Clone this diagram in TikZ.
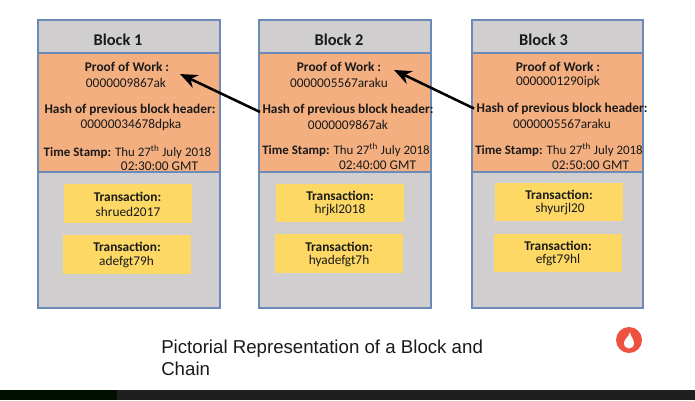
\documentclass[tikz,border=0pt]{standalone}
\usepackage{fontspec}
\setmainfont{Carlito}
\newfontfamily\capfont{Liberation Sans}
\usetikzlibrary{arrows.meta}
\definecolor{edgeblue}{HTML}{6C8AB8}
\definecolor{panelgray}{HTML}{D0CECE}
\definecolor{hdrorange}{HTML}{F4AF80}
\definecolor{txyellow}{HTML}{FDD865}
\definecolor{logored}{HTML}{EE5140}
\definecolor{textink}{HTML}{1A1A1A}
\tikzset{
  panel/.style={draw=edgeblue,line width=1.1pt,fill=panelgray},
  header/.style={draw=edgeblue,line width=1.1pt,fill=hdrorange},
  txbox/.style={fill=txyellow},
  lbl/.style={inner sep=0pt,text=textink,font=\fontsize{10}{12}\selectfont,anchor=center},
  blbl/.style={lbl,font=\fontsize{10}{12}\selectfont\bfseries},
  stamp/.style={lbl,font=\fontsize{9.7}{12}\selectfont},
  title/.style={lbl,font=\fontsize{12.3}{14}\selectfont\bfseries},
  captxt/.style={inner sep=0pt,anchor=base west,text=textink,font=\capfont\fontsize{14}{17}\selectfont},
  linkarrow/.style={-{Stealth[length=13pt,width=10.5pt]},line width=1.9pt,black},
}
\newcommand{\ordth}{\textsuperscript{th}}
\begin{document}
\begin{tikzpicture}[x=0.75pt,y=-0.75pt]
\useasboundingbox (0,0) rectangle (695,400);
\fill[white] (0,0) rectangle (695,400);
% bottom bar
\fill[black!88] (0,390) rectangle (695,400);
\fill[black!90!green!60!black] (0,390) rectangle (117,400);
% Block 1
\path[panel] (38,20) rectangle (220,308);
\path[header] (38,53) rectangle (220,172);
\path[txbox] (64,184) rectangle (192,223);
\path[txbox] (63,235) rectangle (191,274);
\node[title] (b1t) at (118,40) {Block 1};
\node[blbl] (b1p) at (127,67) {Proof of Work :};
\node[lbl] (b1pv) at (126,82.5) {0000009867ak};
\node[blbl] (b1h) at (130,109.5) {Hash of previous block header:};
\node[lbl] (b1hv) at (131,124.5) {00000034678dpka};
\node[stamp] (b1s) at (127.5,151.5) {\textbf{Time Stamp:} Thu 27\ordth{} July 2018};
\node[lbl] (b1g) at (159.5,166) {02:30:00 GMT};
\node[blbl] (b1x) at (127.5,196.5) {Transaction:};
\node[lbl] (b1xv) at (128,211.5) {shrued2017};
\node[blbl] (b1y) at (127,246.5) {Transaction:};
\node[lbl] (b1yv) at (126.5,262) {adefgt79h};
% Block 2
\path[panel] (259,20) rectangle (431,308);
\path[header] (259,53) rectangle (431,172);
\path[txbox] (276,184) rectangle (404,222);
\path[txbox] (275,234) rectangle (403,273);
\node[title] (b2t) at (339,40) {Block 2};
\node[blbl] (b2p) at (339,66.5) {Proof of Work :};
\node[lbl] (b2pv) at (339,82.5) {0000005567araku};
\node[blbl] (b2h) at (348,109.5) {Hash of previous block header:};
\node[lbl] (b2hv) at (348,124.5) {0000009867ak};
\node[stamp] (b2s) at (346,149.5) {\textbf{Time Stamp:} Thu 27\ordth{} July 2018};
\node[lbl] (b2g) at (377.5,165) {02:40:00 GMT};
\node[blbl] (b2x) at (340,195.5) {Transaction:};
\node[lbl] (b2xv) at (340,210.5) {hrjkl2018};
\node[blbl] (b2y) at (339,246.5) {Transaction:};
\node[lbl] (b2yv) at (339,261.5) {hyadefgt7h};
% Block 3
\path[panel] (472,20) rectangle (643,308);
\path[header] (472,53) rectangle (643,172);
\path[txbox] (495,183) rectangle (623,221);
\path[txbox] (494,234) rectangle (622,272);
\node[title] (b3t) at (543.5,40) {Block 3};
\node[blbl] (b3p) at (558,66.5) {Proof of Work :};
\node[lbl] (b3pv) at (558,81.5) {0000001290ipk};
\node[blbl] (b3h) at (562,108.5) {Hash of previous block header:};
\node[lbl] (b3hv) at (562,123.5) {0000005567araku};
\node[stamp] (b3s) at (559,149.5) {\textbf{Time Stamp:} Thu 27\ordth{} July 2018};
\node[lbl] (b3g) at (590.5,165) {02:50:00 GMT};
\node[blbl] (b3x) at (559,194.5) {Transaction:};
\node[lbl] (b3xv) at (560,209.5) {shyurjl20};
\node[blbl] (b3y) at (558,245.5) {Transaction:};
\node[lbl] (b3yv) at (558,260.5) {efgt79hl};
% Arrows
\coordinate (tip1) at (180,74);
\coordinate (tip2) at (394,70);
\coordinate (tail2) at (260,112);
\coordinate (tail3) at (474,108.5);
\draw[linkarrow] (tail2) -- (tip1);
\draw[linkarrow] (tail3) -- (tip2);
% Caption
\node[captxt] (cap1) at (161,353) {Pictorial Representation of a Block and};
\node[captxt] (cap2) at (161,375) {Chain};
% Logo
\fill[logored] (629,340) circle[radius=13];
\fill[white] (630,332) .. controls (630,336) and (634,339) .. (634,343) .. controls (634,347) and (631,348.5) .. (629,348.5) .. controls (626.5,348.5) and (624,346.5) .. (624,343) .. controls (624,339) and (629,337) .. (630,332) -- cycle;
\end{tikzpicture}
\end{document}
